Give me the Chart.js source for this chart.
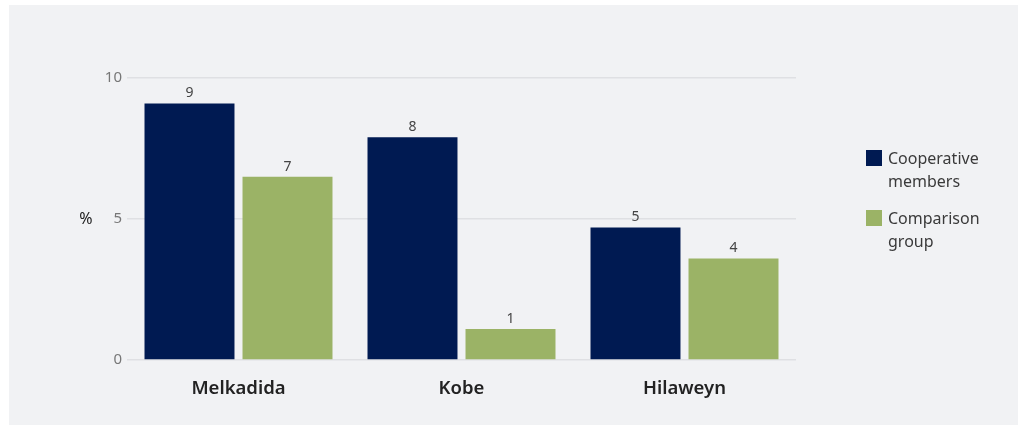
<!DOCTYPE html>
<html>
<head>
<meta charset="utf-8">
<script src="https://cdn.jsdelivr.net/npm/chart.js@4.4.0/dist/chart.umd.min.js"></script>
<style>
  html, body { margin: 0; padding: 0; background: #fff; }
  body { width: 1024px; height: 427px; position: relative; overflow: hidden; font-family: "Noto Sans", "Open Sans", sans-serif; }
  .panel { position: absolute; left: 9px; top: 5px; width: 1009px; height: 420px; background: #f1f2f4; }
  #chart { position: absolute; left: 0; top: 0; }
  .legend { position: absolute; left: 866px; top: 147px; }
  .legend-item { display: flex; align-items: flex-start; margin-bottom: 14px; }
  .legend-box { width: 16px; height: 16px; margin-top: 3px; margin-right: 6px; flex: none; }
  .legend-text { font-size: 16px; line-height: 23px; color: #3a3a3a; white-space: pre-line; }
</style>
</head>
<body>
<div class="panel"></div>
<canvas id="chart" width="1024" height="427"></canvas>
<div class="legend" id="legend"></div>
<script>
// Dữ liệu biểu đồ
const categories = ['Melkadida', 'Kobe', 'Hilaweyn'];
const cooperativeMembers = [9.1, 7.9, 4.7];
const comparisonGroup = [6.5, 1.1, 3.6];
const seriesNames = ['Cooperative\nmembers', 'Comparison\ngroup'];
const seriesColors = ['#001a52', '#9bb366'];
const yTicks = [0, 5, 10];

document.addEventListener('DOMContentLoaded', function() {
    drawChart();
    drawLegend();
});

// Nhãn giá trị trên đầu cột + ký hiệu % bên trái
const valueLabels = {
    id: 'valueLabels',
    afterDatasetsDraw(chart) {
        const ctx = chart.ctx;
        ctx.save();
        ctx.font = '14px "Noto Sans", "Open Sans", sans-serif';
        ctx.fillStyle = '#444';
        ctx.textAlign = 'center';
        ctx.textBaseline = 'bottom';
        chart.data.datasets.forEach(function(ds, i) {
            chart.getDatasetMeta(i).data.forEach(function(bar, j) {
                ctx.fillText(String(Math.round(ds.data[j])), bar.x, bar.y - 3);
            });
        });
        const area = chart.chartArea;
        ctx.font = '16px "Noto Sans", "Open Sans", sans-serif';
        ctx.fillStyle = '#222';
        ctx.textBaseline = 'middle';
        ctx.fillText('%', 86, (area.top + area.bottom) / 2);
        ctx.restore();
    }
};

function drawChart() {
    const ctx = document.getElementById('chart').getContext('2d');
    new Chart(ctx, {
        type: 'bar',
        data: {
            labels: categories,
            datasets: [{
                label: seriesNames[0],
                data: cooperativeMembers,
                backgroundColor: seriesColors[0]
            }, {
                label: seriesNames[1],
                data: comparisonGroup,
                backgroundColor: seriesColors[1]
            }]
        },
        options: {
            responsive: false,
            animation: false,
            categoryPercentage: 0.879,
            barPercentage: 0.918,
            layout: {
                padding: { left: 0, right: 228, top: 78, bottom: 0 }
            },
            scales: {
                x: {
                    grid: { display: false },
                    border: { display: false },
                    ticks: {
                        color: '#222',
                        padding: 10,
                        font: { family: '"Noto Sans", "Open Sans", sans-serif', size: 18.5, weight: '600' }
                    },
                    afterFit: function(scale) { scale.height = 67; }
                },
                y: {
                    min: 0,
                    max: 10,
                    afterBuildTicks: function(scale) {
                        scale.ticks = yTicks.map(function(v) { return { value: v }; });
                    },
                    grid: { color: '#dfe0e3', lineWidth: 1.5, drawTicks: false },
                    border: { display: false },
                    ticks: {
                        color: '#777',
                        padding: 5,
                        font: { family: '"Noto Sans", "Open Sans", sans-serif', size: 15 }
                    },
                    afterFit: function(scale) { scale.width = 127; }
                }
            },
            plugins: {
                legend: { display: false },
                tooltip: { enabled: false }
            }
        },
        plugins: [valueLabels]
    });
}

function drawLegend() {
    const box = document.getElementById('legend');
    seriesNames.forEach(function(name, i) {
        const item = document.createElement('div');
        item.className = 'legend-item';
        const sw = document.createElement('div');
        sw.className = 'legend-box';
        sw.style.background = seriesColors[i];
        const txt = document.createElement('div');
        txt.className = 'legend-text';
        txt.textContent = name;
        item.appendChild(sw);
        item.appendChild(txt);
        box.appendChild(item);
    });
}
</script>
</body>
</html>
